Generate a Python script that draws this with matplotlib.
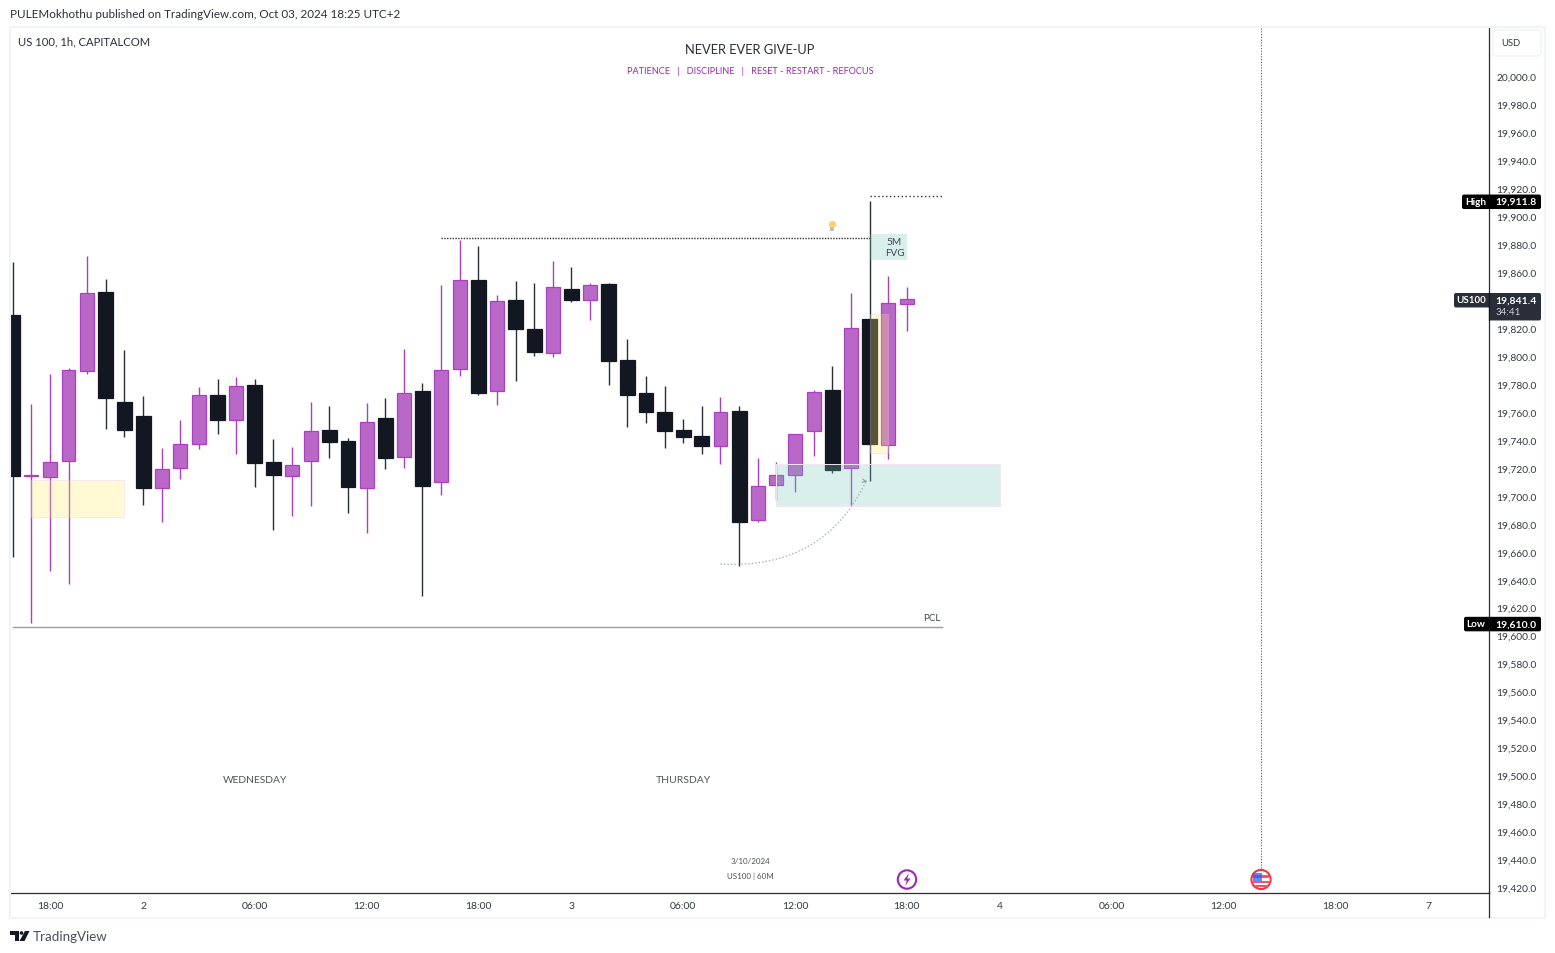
#!/usr/bin/env python3
"""US 100 1h candlestick chart with TradingView style markup."""

import matplotlib
matplotlib.use("Agg")
import matplotlib.pyplot as plt
from matplotlib.patches import Circle, FancyBboxPatch, PathPatch, Polygon, Rectangle
from matplotlib.path import Path
from matplotlib.transforms import ScaledTranslation

plt.rcParams["font.family"] = "Lato"

opens = [19829.9, 19715.2, 19714.3, 19725.7, 19790.1, 19846.3, 19767.7, 19757.7, 19706.4, 19720.7,
         19737.9, 19772.7, 19755.0, 19779.8, 19724.8, 19715.0, 19725.7, 19747.6, 19739.8, 19706.4,
         19756.2, 19728.6, 19775.5, 19710.7, 19791.6, 19855.0, 19775.8, 19840.7, 19819.9, 19803.0,
         19848.5, 19840.9, 19852.1, 19797.7, 19774.1, 19760.6, 19747.7, 19743.4, 19736.5, 19761.3,
         19683.6, 19708.6, 19715.7, 19747.2, 19776.3, 19720.7, 19827.1, 19737.2, 19838.0]
highs = [19867.8, 19766.2, 19787.7, 19792.0, 19872.1, 19855.6, 19804.9, 19772.0, 19734.8, 19754.8,
         19778.4, 19784.1, 19785.6, 19784.1, 19741.2, 19735.5, 19767.7, 19764.8, 19741.9, 19767.0,
         19770.5, 19805.6, 19781.3, 19851.3, 19883.6, 19879.3, 19844.2, 19854.2, 19852.8, 19868.6,
         19864.3, 19852.8, 19852.8, 19812.8, 19786.3, 19779.2, 19755.6, 19764.8, 19771.3, 19764.8,
         19727.7, 19724.8, 19745.3, 19776.3, 19793.5, 19845.7, 19911.8, 19857.8, 19850.0]
lows = [19657.1, 19609.8, 19647.0, 19637.7, 19787.7, 19748.4, 19742.6, 19694.0, 19681.8, 19712.6,
        19734.1, 19744.8, 19730.5, 19706.9, 19676.1, 19686.1, 19693.3, 19727.6, 19688.3, 19674.0,
        19719.8, 19720.5, 19628.9, 19701.2, 19786.3, 19772.7, 19765.6, 19782.7, 19800.6, 19799.9,
        19839.2, 19826.4, 19779.9, 19749.8, 19752.7, 19734.8, 19738.4, 19730.5, 19723.4, 19650.7,
        19682.1, 19697.6, 19703.3, 19729.1, 19716.9, 19694.0, 19711.2, 19726.9, 19818.5]
closes = [19715.0, 19715.6, 19725.2, 19791.0, 19846.1, 19770.5, 19747.6, 19706.2, 19720.2, 19738.1,
          19773.2, 19754.8, 19779.6, 19724.0, 19715.5, 19723.1, 19747.4, 19739.1, 19706.9, 19753.8,
          19727.6, 19774.6, 19707.6, 19791.0, 19855.4, 19774.1, 19840.4, 19819.9, 19803.5, 19850.4,
          19840.7, 19851.9, 19797.0, 19772.7, 19760.6, 19747.0, 19742.7, 19736.2, 19761.0, 19682.1,
          19708.1, 19716.0, 19745.3, 19775.3, 19719.1, 19821.1, 19737.7, 19839.0, 19841.4]

time_ticks = [2, 7, 13, 19, 25, 30, 36, 42, 48, 53, 59, 65, 71, 76]
time_labels = ["18:00", "2", "06:00", "12:00", "18:00", "3", "06:00", "12:00", "18:00", "4",
               "06:00", "12:00", "18:00", "7"]
price_ticks = list(range(19420, 20001, 20))

# (first bar, last bar, top price, bottom price)
yellow_zones = [(1, 6, 19712.2, 19686.0), (46, 47, 19830.7, 19731.3)]
fvg_zone = (41, 53, 19723.4, 19693.4)
label_zone = (46, 48, 19887.9, 19869.7)

PURPLE_FILL = "#b968c7"
PURPLE_EDGE = "#ab3fc3"
DARK_FILL = "#131722"
DARK_WICK = "#2a2e39"
TEAL = "#76c8bb"
FRAME = "#f0f3fa"
TEXT = "#333842"
W, H = 1555, 954

fig = plt.figure(figsize=(W / 100, H / 100), dpi=100, facecolor="white")
ax = fig.add_axes([10 / W, 1 - 894 / H, (1489 - 10) / W, (894 - 29) / H])
ax.set_xlim(-0.146, 79.26)
ax.set_ylim(19416.8, 20035.4)

for i, (o, h, l, c) in enumerate(zip(opens, highs, lows, closes)):
    up = c >= o
    ax.vlines(i, l, h, color=PURPLE_EDGE if up else DARK_WICK, lw=1.0, zorder=2)
    ax.bar(i, abs(c - o), bottom=min(o, c), width=0.74 if up else 0.8,
           color=PURPLE_FILL if up else DARK_FILL,
           edgecolor=PURPLE_EDGE if up else DARK_FILL, linewidth=0.9, zorder=2.5)

for x0, x1, top, bot in yellow_zones:
    ax.add_patch(Rectangle((x0, bot), x1 - x0, top - bot, facecolor="#ffeb6b", alpha=0.29,
                           edgecolor="#d9c8f0", lw=0.8, zorder=3))
x0, x1, top, bot = fvg_zone
ax.add_patch(Rectangle((x0, bot), x1 - x0, top - bot, facecolor=TEAL, alpha=0.28, lw=0, zorder=3))
ax.add_patch(Rectangle((x0, bot), x1 - x0, top - bot, fill=False, edgecolor="#f3e5f5", lw=0.7, zorder=3))
x0, x1, top, bot = label_zone
ax.add_patch(Rectangle((x0, bot), x1 - x0, top - bot, facecolor=TEAL, alpha=0.28, lw=0, zorder=3))
ax.text(47.34, (top + bot) / 2, "5M\nFVG", ha="center", va="center", fontsize=7.2, linespacing=1.15,
        color="#434651", zorder=4)

ax.plot([23, 46], [19885.2, 19885.2], color="#333333", lw=1.0, ls=(0, (1, 1)), zorder=2)
ax.plot([46, 49.9], [19915.0, 19915.0], color="#333333", lw=1.0, ls=(0, (1, 1.8)), zorder=2)
ax.plot([0, 49.9], [19607.2, 19607.2], color="#a596b0", lw=1.0, zorder=2)
ax.text(49.8, 19610.3, "PCL", ha="right", va="bottom", fontsize=7, color="#434651")
ax.vlines(67, 19435, 20035.4, color="#555555", lw=0.8, linestyles=(0, (1, 1.5)), zorder=1)

# swing curve into the sweep low
curve = Path([(38, 19652), (43.6, 19648), (45.85, 19712.2)], [Path.MOVETO, Path.CURVE3, Path.CURVE3])
ax.add_patch(PathPatch(curve, fill=False, edgecolor="#a8b3b8", lw=1.0, ls=(0, (1, 1.5)), zorder=4))
ax.annotate("", xy=(46, 19711), xytext=(45.7, 19711.5),
            arrowprops=dict(arrowstyle="->", color="#8a969c", lw=0.7, mutation_scale=6), zorder=4)

# idea bulb
ax.scatter([44], [19895.0], s=26, color="#ffcf6b", linewidths=0, zorder=4)
ax.scatter([44], [19892.0], s=7, marker="s", color="#b8c4cc", linewidths=0, zorder=4)

ax.text(13.0, 19498, "WEDNESDAY", ha="center", va="center", fontsize=7.4, color="#50535e")
ax.text(36.0, 19498, "THURSDAY", ha="center", va="center", fontsize=7.5, color="#50535e")
ax.text(39.6, 19439.7, "3/10/2024", ha="center", va="center", fontsize=5.8, color="#50535e")
ax.text(39.6, 19429.7, "US100 | 60M", ha="center", va="center", fontsize=5.8, color="#50535e")

ax.yaxis.tick_right()
ax.set_yticks(price_ticks)
ax.set_yticklabels([f"{p:,.1f}" for p in price_ticks])
ax.set_xticks(time_ticks)
ax.set_xticklabels(time_labels)
ax.tick_params(axis="y", length=0, pad=5.5, labelsize=7.4, labelcolor=TEXT)
ax.tick_params(axis="x", length=0, pad=5.9, labelsize=7.5, labelcolor=TEXT)
lift = ScaledTranslation(0, 1.2 / 100, fig.dpi_scale_trans)
for lbl in ax.get_yticklabels():
    lbl.set_transform(lbl.get_transform() + lift)
for side in ("top", "left"):
    ax.spines[side].set_visible(False)
for side in ("right", "bottom"):
    ax.spines[side].set_color(DARK_WICK)
    ax.spines[side].set_linewidth(0.9)

# everything around the pane is drawn in pixel coords on a full-figure overlay
ov = fig.add_axes([0, 0, 1, 1], facecolor="none")
ov.set_xlim(0, W)
ov.set_ylim(H, 0)
ov.axis("off")


def price_px(p):
    return H - ax.transData.transform((0, p))[1]


def badge(x0, x1, y0, y1, color):
    ov.add_patch(FancyBboxPatch((x0 + 2, y0 + 2), x1 - x0 - 4, y1 - y0 - 4, boxstyle="round,pad=2",
                                facecolor=color, edgecolor="none", zorder=5))


def badge_text(x, y, s, size=7.5, color="white", weight="bold"):
    ov.text(x, y, s, ha="center", va="center", fontsize=size, color=color, fontweight=weight, zorder=6)


ov.add_patch(Rectangle((10, 27.5), 1535, 891, fill=False, edgecolor=FRAME, lw=1.5))
ov.plot([1489, 1489], [893, 918], color=DARK_WICK, lw=0.9)
ov.add_patch(FancyBboxPatch((1496, 34), 42, 20, boxstyle="round,pad=3", facecolor="white",
                            edgecolor=FRAME, lw=1))
ov.text(1510.5, 44, "USD", ha="center", va="center", fontsize=6.8, color=TEXT)

ov.text(10, 14.5, "PULEMokhothu published on TradingView.com, Oct 03, 2024 18:25 UTC+2", va="center",
        fontsize=8.4, color="#2a2e39")
ov.text(18, 42, "US 100, 1h, CAPITALCOM", va="center", fontsize=8.1, color="#2a2e39")
ov.text(750, 49.5, "NEVER EVER GIVE-UP", ha="center", va="center", fontsize=9.3, color="#2a2e39")
ov.text(750, 71, "PATIENCE   |   DISCIPLINE   |   RESET - RESTART - REFOCUS", ha="center", va="center",
        fontsize=6.6, color="#9c27b0")

y = price_px(highs[46]) + 0.7
badge(1462, 1541, y - 7, y + 7.5, "#000000")
badge_text(1475.5, y, "High", size=7.2)
badge_text(1516, y, f"{highs[46]:,.1f}")

y = price_px(lows[1]) + 0.7
badge(1464, 1541, y - 7, y + 7.5, "#000000")
badge_text(1476, y, "Low", size=7.2)
badge_text(1516, y, "19,610.0")

y = price_px(closes[48]) + 0.7
badge(1454, 1495, y - 7, y + 7.5, DARK_WICK)
badge(1489, 1541, y - 7, y + 20.5, DARK_WICK)
badge_text(1471.5, y, "US100", size=7.0)
badge_text(1516, y, f"{closes[48]:,.1f}")
badge_text(1508, y + 12, "34:41", size=7, color="#d1d4dc", weight="normal")
ov.plot([1489, 1489], [y - 7, y + 20], color="#131722", lw=0.9, zorder=6)

# event icons on the time axis
ov.add_patch(Circle((907, 880.5), 9.2, facecolor="white", edgecolor="#9c27b0", lw=1.5, zorder=5))
ov.add_patch(Polygon([(909, 874), (903.5, 881.5), (906.8, 881.5), (905, 887), (910.5, 879.5), (907.2, 879.5)],
                     facecolor="#9c27b0", edgecolor="none", zorder=6))
ov.add_patch(Circle((1261, 880.5), 9.6, facecolor="white", edgecolor="#f23645", lw=1.5, zorder=5))
ov.add_patch(Rectangle((1253, 875.5), 16, 3, facecolor="#f7525f", edgecolor="none", zorder=6))
ov.add_patch(Rectangle((1253, 881.5), 16, 2.5, facecolor="#f7525f", edgecolor="none", zorder=6))
ov.add_patch(Rectangle((1254, 885.5), 14, 2, facecolor="#f7525f", edgecolor="none", zorder=6))
ov.add_patch(Rectangle((1253, 873.5), 9, 8, facecolor="#2962ff", alpha=0.75, edgecolor="none", zorder=7))

# footer logo
ov.add_patch(Polygon([(10, 932), (19, 932), (19, 942), (14.5, 942), (14.5, 936), (10, 936)],
                     facecolor="#131722", edgecolor="none"))
ov.add_patch(Circle((21.5, 934), 1.8, facecolor="#131722", edgecolor="none"))
ov.add_patch(Polygon([(25, 932), (29.5, 932), (24.5, 942), (19.5, 942)], facecolor="#131722", edgecolor="none"))
ov.text(33, 937.5, "TradingView", va="center", fontsize=9.6, color="#4a4e59")

fig.savefig("out.png", dpi=100)
